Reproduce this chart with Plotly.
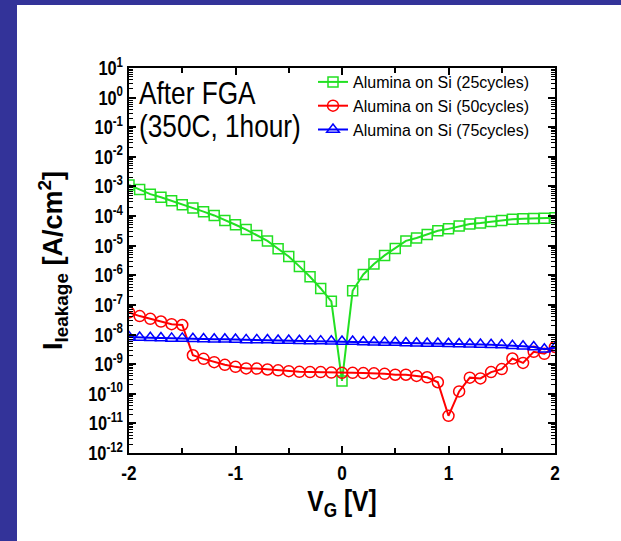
import plotly.graph_objects as go

# Gate voltage sweep (V)
vg = [-2.0, -1.9, -1.8, -1.7, -1.6, -1.5, -1.4, -1.3, -1.2, -1.1,
      -1.0, -0.9, -0.8, -0.7, -0.6, -0.5, -0.4, -0.3, -0.2, -0.1,
      0.0, 0.1, 0.2, 0.3, 0.4, 0.5, 0.6, 0.7, 0.8, 0.9,
      1.0, 1.1, 1.2, 1.3, 1.4, 1.5, 1.6, 1.7, 1.8, 1.9, 2.0]

# Leakage current density (A/cm^2) after forming-gas anneal
j_25cyc = [1.12e-3, 7.9e-4, 5.5e-4, 4.3e-4, 3.3e-4, 2.4e-4, 1.86e-4, 1.41e-4, 1.05e-4, 7.1e-5,
           5.1e-5, 3.5e-5, 2.2e-5, 1.45e-5, 7.9e-6, 4.3e-6, 2.0e-6, 8.9e-7, 3.6e-7, 1.32e-7,
           2.7e-10, 3.0e-7, 1.07e-6, 2.4e-6, 4.7e-6, 8.1e-6, 1.45e-5, 1.82e-5, 2.4e-5, 3.2e-5,
           3.7e-5, 4.6e-5, 5.4e-5, 5.8e-5, 6.5e-5, 7.1e-5, 7.8e-5, 8.1e-5, 8.3e-5, 8.5e-5, 8.7e-5]

j_50cyc = [5.6e-8, 4.2e-8, 3.4e-8, 2.75e-8, 2.24e-8, 2.1e-8, 2.0e-9, 1.51e-9, 1.17e-9, 9.5e-10,
           8.1e-10, 7.2e-10, 7.1e-10, 6.6e-10, 6.2e-10, 5.8e-10, 5.5e-10, 5.4e-10, 5.4e-10, 5.2e-10,
           5.1e-10, 5.1e-10, 5.0e-10, 4.9e-10, 4.7e-10, 4.4e-10, 4.4e-10, 4.0e-10, 3.6e-10, 2.45e-10,
           1.8e-11, 1.2e-10, 3.5e-10, 3.3e-10, 5.4e-10, 6.8e-10, 1.55e-9, 1.1e-9, 2.6e-9, 2.24e-9, 3.8e-9]

j_75cyc = [8.3e-9, 7.9e-9, 7.8e-9, 7.6e-9, 7.4e-9, 7.4e-9, 7.2e-9, 7.1e-9, 6.9e-9, 6.9e-9,
           6.8e-9, 6.6e-9, 6.6e-9, 6.5e-9, 6.3e-9, 6.3e-9, 6.2e-9, 6.0e-9, 6.0e-9, 5.9e-9,
           5.8e-9, 5.8e-9, 5.6e-9, 5.5e-9, 5.4e-9, 5.4e-9, 5.2e-9, 5.1e-9, 5.0e-9, 5.0e-9,
           4.9e-9, 4.8e-9, 4.7e-9, 4.6e-9, 4.5e-9, 4.4e-9, 4.2e-9, 4.0e-9, 3.8e-9, 3.2e-9, 3.6e-9]

series_names = ["Alumina on Si (25cycles)", "Alumina on Si (50cycles)", "Alumina on Si (75cycles)"]
note_lines = ["After FGA", "(350C, 1hour)"]

x_tickvals = [-2, -1, 0, 1, 2]
x_ticktext = ["-2", "-1", "0", "1", "2"]
y_exponents = list(range(-12, 2))

FONT = "Liberation Sans, Arial, sans-serif"

W, H = 621, 541
ML, MR, MT, MB = 129, 66, 68, 88
PW, PH = W - ML - MR, H - MT - MB


def px_to_paper_x(px):
    return (px - ML) / PW


def px_to_paper_y(py):
    return (H - MB - py) / PH


fig = go.Figure()

styles = [
    dict(color="#22e022", symbol="square-open", size=10),
    dict(color="#ff0000", symbol="circle-open", size=11),
    dict(color="#0000ff", symbol="triangle-up-open", size=11),
]
for name, ys, st in zip(series_names, [j_25cyc, j_50cyc, j_75cyc], styles):
    fig.add_trace(go.Scatter(
        x=vg, y=ys, name=name, mode="lines+markers",
        line=dict(color=st["color"], width=2),
        marker=dict(symbol=st["symbol"], size=st["size"], color=st["color"],
                    line=dict(color=st["color"], width=1.5)),
    ))

minor_y = [m * 10.0 ** e for e in range(-12, 1) for m in range(2, 10)]

fig.update_xaxes(
    range=[-2, 2], tickmode="array", tickvals=x_tickvals, ticktext=x_ticktext,
    ticks="inside", ticklen=7, tickwidth=1.5, tickcolor="black",
    minor=dict(ticks="inside", ticklen=5, tickwidth=1.5, tickcolor="black",
               tickvals=[-1.5, -0.5, 0.5, 1.5]),
    showline=True, linecolor="black", linewidth=2, mirror="ticks",
    showgrid=False, zeroline=False,
    tickfont=dict(family=FONT, size=21, color="black", weight="bold"),
    title=dict(text="V<sub>G</sub> [V]", standoff=4,
               font=dict(family=FONT, size=30, color="black", weight="bold")),
)

fig.update_yaxes(
    type="log", range=[-12, 1], tickmode="array",
    tickvals=[10.0 ** e for e in y_exponents],
    ticktext=[f"10<sup>{e}</sup>" for e in y_exponents],
    ticks="inside", ticklen=7, tickwidth=1.5, tickcolor="black",
    minor=dict(ticks="inside", ticklen=4, tickwidth=1, tickcolor="black", tickvals=minor_y),
    showline=True, linecolor="black", linewidth=2, mirror="ticks",
    showgrid=False, zeroline=False,
    tickfont=dict(family=FONT, size=20, color="black", weight="bold"),
    title=dict(text="I<sub>leakage</sub> [A/cm<sup>2</sup>]", standoff=10,
               font=dict(family=FONT, size=27, color="black", weight="bold")),
)

# Slide frame: blue strips along the left and top edges
fig.add_shape(type="rect", xref="paper", yref="paper", layer="below",
              x0=px_to_paper_x(0), x1=px_to_paper_x(17),
              y0=px_to_paper_y(H), y1=px_to_paper_y(0),
              fillcolor="#333399", line=dict(width=0))
fig.add_shape(type="rect", xref="paper", yref="paper", layer="below",
              x0=px_to_paper_x(0), x1=px_to_paper_x(W),
              y0=px_to_paper_y(5), y1=px_to_paper_y(0),
              fillcolor="#333399", line=dict(width=0))

# Anneal condition note, one annotation per line for tight line spacing
for line_text, y_center in zip(note_lines, [93, 126]):
    fig.add_annotation(
        xref="paper", yref="paper", x=px_to_paper_x(137), y=px_to_paper_y(y_center),
        xanchor="left", yanchor="middle", align="left", showarrow=False,
        text=line_text,
        font=dict(family=FONT, size=32, color="black"),
    )

fig.update_layout(
    width=W, height=H,
    margin=dict(l=ML, r=MR, t=MT, b=MB),
    paper_bgcolor="white", plot_bgcolor="white",
    showlegend=True,
    legend=dict(
        x=px_to_paper_x(313), y=px_to_paper_y(65), xanchor="left", yanchor="top",
        bgcolor="rgba(0,0,0,0)", borderwidth=0,
        font=dict(family=FONT, size=16, color="black"),
        tracegroupgap=0,
    ),
)

# Condense tick labels, the x title and the note horizontally (narrow lettering),
# scaling each text about its own anchor point.
squeeze_js = """
var gd = document.getElementById('{plot_id}');
function squeezeText() {
  var s = 0.82;
  var nodes = gd.querySelectorAll('.xtick text, .ytick text, text.xtitle, text.annotation-text');
  nodes.forEach(function (t) {
    var tr = t.getAttribute('transform') || '';
    if (tr.indexOf('scale(') >= 0) return;
    var x = parseFloat(t.getAttribute('x')) || 0;
    var y = parseFloat(t.getAttribute('y')) || 0;
    t.setAttribute('transform', tr + ' translate(' + x + ',' + y + ') scale(' + s + ',1) translate(' + (-x) + ',' + (-y) + ')');
  });
}
squeezeText();
gd.on('plotly_afterplot', squeezeText);
"""

fig.write_html("out.html", post_script=squeeze_js)
